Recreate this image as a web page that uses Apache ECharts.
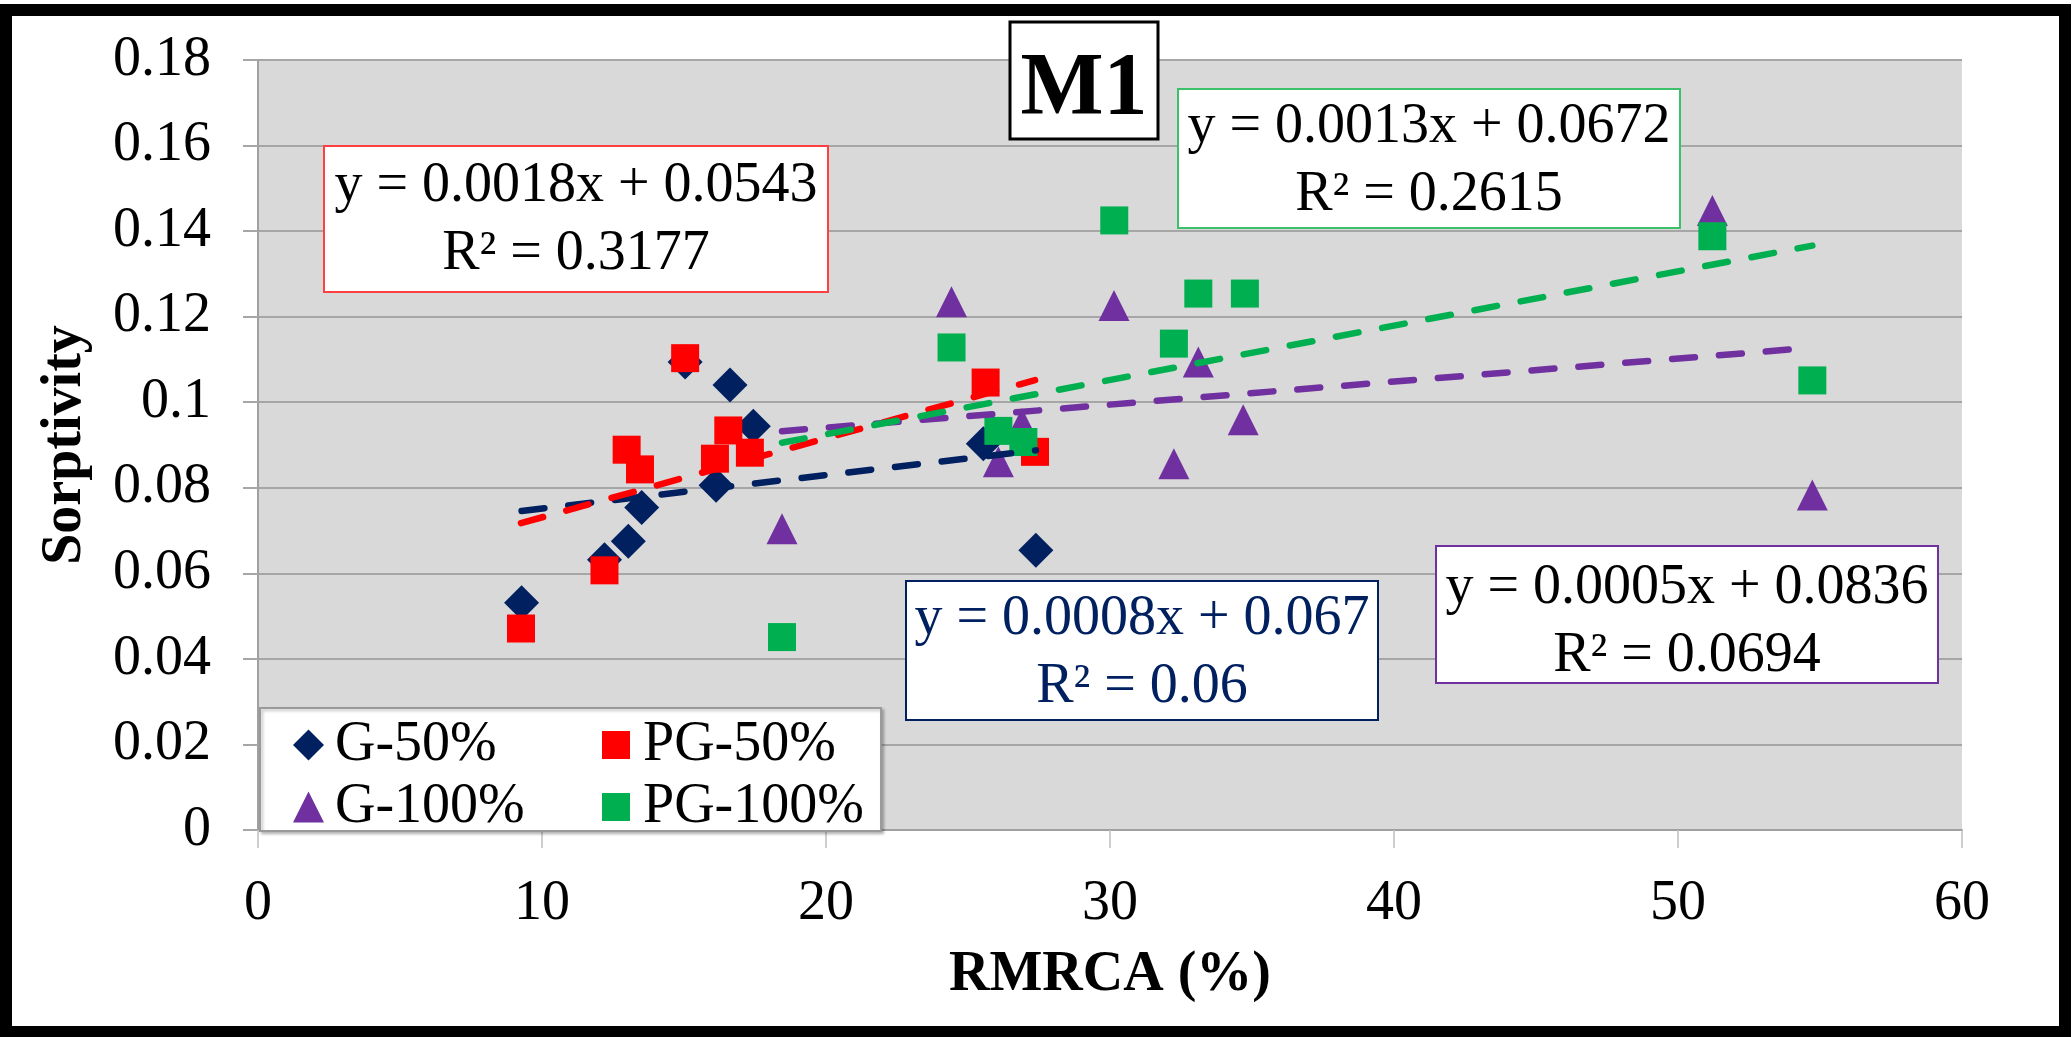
<!DOCTYPE html>
<html><head><meta charset="utf-8">
<script src="https://cdn.jsdelivr.net/npm/echarts@6/dist/echarts.min.js"></script>
<style>html,body{margin:0;padding:0;background:#fff}#c{width:2072px;height:1037px}</style>
</head><body><div id="c"></div>
<script>
const seriesNames = ['G-50%', 'PG-50%', 'G-100%', 'PG-100%'];
const g50X  = [9.28, 12.2, 13.04, 13.51, 15.04, 16.13, 16.62, 17.44, 25.54, 27.39];
const g50Y  = [0.0531, 0.0632, 0.0675, 0.0754, 0.1094, 0.0806, 0.104, 0.0944, 0.0903, 0.0654];
const pg50X = [9.26, 12.2, 12.98, 13.45, 15.04, 16.09, 16.56, 17.32, 25.62, 27.36];
const pg50Y = [0.0471, 0.0607, 0.0889, 0.0843, 0.1103, 0.0868, 0.0934, 0.0882, 0.1046, 0.0884];
const g100X = [18.45, 24.42, 26.07, 26.9, 30.14, 32.25, 33.11, 34.69, 51.21, 54.73];
const g100Y = [0.0704, 0.1235, 0.0861, 0.095, 0.1226, 0.0856, 0.1094, 0.0959, 0.1448, 0.0783];
const pg100X = [18.45, 24.42, 26.07, 26.95, 30.15, 32.25, 33.11, 34.75, 51.21, 54.73];
const pg100Y = [0.0451, 0.1128, 0.0933, 0.0907, 0.1425, 0.1137, 0.1254, 0.1254, 0.1388, 0.1051];
const yTickLabels = ['0', '0.02', '0.04', '0.06', '0.08', '0.1', '0.12', '0.14', '0.16', '0.18'];
const xTickLabels = ['0', '10', '20', '30', '40', '50', '60'];
const eqTexts = [
  'y = 0.0008x + 0.067\nR² = 0.06',
  'y = 0.0018x + 0.0543\nR² = 0.3177',
  'y = 0.0005x + 0.0836\nR² = 0.0694',
  'y = 0.0013x + 0.0672\nR² = 0.2615'
];
const titleText = 'M1';
const xName = 'RMRCA (%)';
const yName = 'Sorptivity';

const colors = ['#002060', '#ff0000', '#7030a0', '#00b050'];
const symbols = ['diamond', 'rect', 'triangle', 'rect'];
const symSizes = [35, 28, 31, 28];
const FONT = '"Liberation Serif","Times New Roman",serif';
const xsAll = [g50X, pg50X, g100X, pg100X];
const ysAll = [g50Y, pg50Y, g100Y, pg100Y];

function fitLine(xs, ys) {
  const n = xs.length;
  let mx = 0, my = 0;
  for (let i = 0; i < n; i++) { mx += xs[i]; my += ys[i]; }
  mx /= n; my /= n;
  let sxy = 0, sxx = 0;
  for (let i = 0; i < n; i++) { sxy += (xs[i] - mx) * (ys[i] - my); sxx += (xs[i] - mx) * (xs[i] - mx); }
  const b = sxy / sxx, a = my - b * mx;
  const x0 = Math.min(...xs), x1 = Math.max(...xs);
  return [[x0, a + b * x0], [x1, a + b * x1]];
}

const series = [];
for (let k = 0; k < 4; k++) {
  series.push({
    name: seriesNames[k], type: 'scatter', symbol: symbols[k], symbolSize: symSizes[k],
    itemStyle: { color: colors[k], opacity: 1 },
    data: xsAll[k].map((x, i) => [x, ysAll[k][i]]), z: 2, silent: true
  });
}
for (let k = 0; k < 4; k++) {
  series.push({
    name: seriesNames[k] + ' trend', type: 'line', showSymbol: false, symbol: 'none',
    data: fitLine(xsAll[k], ysAll[k]), z: 3, silent: true,
    lineStyle: { color: colors[k], width: 6.5, type: [23, 24], cap: 'round' }
  });
}

function eqBox(x, y, w, h, stroke, textColor, text, dy) {
  return {
    type: 'group', z: 10, children: [
      { type: 'rect', z: 10, shape: { x: x, y: y, width: w, height: h }, style: { fill: '#fff', stroke: stroke, lineWidth: 2 } },
      { type: 'text', z: 11, x: x + w / 2, y: y + h / 2 + dy, style: { text: text, fill: textColor, fontFamily: FONT, fontSize: 56, lineHeight: 68, align: 'center', verticalAlign: 'middle' } }
    ]
  };
}

const chart = echarts.init(document.getElementById('c'), null, { renderer: 'canvas' });
chart.setOption({
  backgroundColor: '#fff',
  animation: false,
  grid: { left: 258, top: 60, width: 1704, height: 770, show: true, backgroundColor: '#d9d9d9', borderWidth: 0, containLabel: false, outerBoundsMode: 'none' },
  xAxis: {
    type: 'value', min: 0, max: 60, interval: 10,
    name: xName, nameLocation: 'middle', nameGap: 118,
    nameTextStyle: { fontFamily: FONT, fontSize: 56, fontWeight: 'bold', color: '#000' },
    axisLine: { show: true, lineStyle: { color: '#a0a0a0', width: 2 } },
    axisTick: { show: true, length: 18, lineStyle: { color: '#c0c0c0', width: 1.5 } },
    splitLine: { show: false },
    axisLabel: { margin: 46, fontFamily: FONT, fontSize: 56, color: '#000', formatter: v => xTickLabels[Math.round(v / 10)] }
  },
  yAxis: {
    type: 'value', min: 0, max: 0.18, interval: 0.02,
    name: yName, nameLocation: 'middle', nameGap: 164, nameRotate: 90,
    nameTextStyle: { fontFamily: FONT, fontSize: 56, fontWeight: 'bold', color: '#000' },
    axisLine: { show: true, lineStyle: { color: '#a0a0a0', width: 2 } },
    axisTick: { show: true, length: 15, lineStyle: { color: '#a6a6a6', width: 2 } },
    splitLine: { show: true, lineStyle: { color: '#a6a6a6', width: 2 } },
    axisLabel: { margin: 47, fontFamily: FONT, fontSize: 56, color: '#000', formatter: v => yTickLabels[Math.round(v / 0.02)] }
  },
  legend: [
    {
      data: [{ name: seriesNames[0], icon: 'diamond' }, { name: seriesNames[2], icon: 'triangle' }],
      orient: 'vertical', left: 288, top: 712, itemGap: 6, itemWidth: 31, itemHeight: 31,
      selectedMode: false, z: 12,
      textStyle: { fontFamily: FONT, fontSize: 56, lineHeight: 56, color: '#000', padding: [0, 0, 0, 6] }
    },
    {
      data: [{ name: seriesNames[1], icon: 'rect' }, { name: seriesNames[3], icon: 'rect' }],
      orient: 'vertical', left: 597, top: 712, itemGap: 6, itemWidth: 28, itemHeight: 28,
      selectedMode: false, z: 12,
      textStyle: { fontFamily: FONT, fontSize: 56, lineHeight: 56, color: '#000', padding: [0, 0, 0, 8] }
    }
  ],
  graphic: [
    { type: 'rect', z: 11, shape: { x: 260, y: 708, width: 621, height: 123 }, style: { fill: '#fff', stroke: '#9a9a9a', lineWidth: 2, shadowColor: 'rgba(0,0,0,0.25)', shadowBlur: 3, shadowOffsetX: 2, shadowOffsetY: 2 } },
    eqBox(324, 146, 504, 146, '#ff4040', '#000', eqTexts[1], 1),
    eqBox(1178, 89, 502, 139, '#3cc06a', '#000', eqTexts[3], 3),
    eqBox(906, 581, 472, 139, '#002060', '#002060', eqTexts[0], 3),
    eqBox(1436, 546, 502, 137, '#7030a0', '#000', eqTexts[2], 8),
    {
      type: 'group', z: 10, children: [
        { type: 'rect', z: 10, shape: { x: 1010, y: 22, width: 148, height: 117 }, style: { fill: '#fff', stroke: '#000', lineWidth: 3 } },
        { type: 'text', z: 11, x: 1084, y: 90, style: { text: titleText, fill: '#000', fontFamily: FONT, fontSize: 88, fontWeight: 'bold', align: 'center', verticalAlign: 'middle' } }
      ]
    },
    { type: 'rect', z: 20, shape: { x: 6, y: 10, width: 2059, height: 1022 }, style: { fill: 'none', stroke: '#000', lineWidth: 12 } }
  ],
  series: series
});
</script></body></html>
